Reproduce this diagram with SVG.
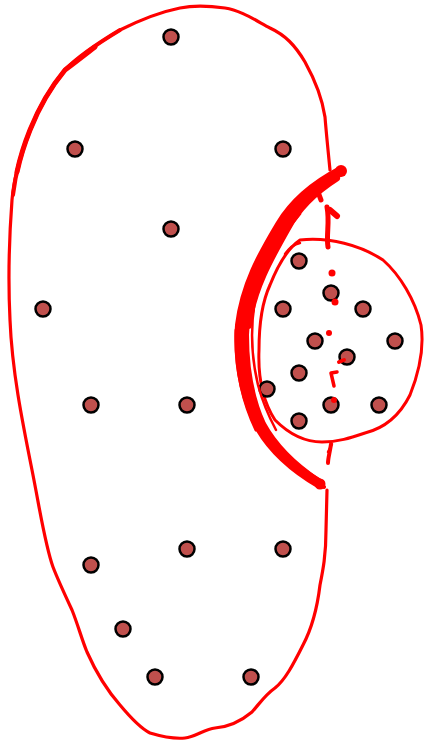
<svg xmlns="http://www.w3.org/2000/svg" width="425" height="743" viewBox="0 0 425 743">
<style>
.dot{fill:#c0504d;stroke:#000;stroke-width:2.5}
.ln{fill:none;stroke:#ff0000;stroke-linecap:round;stroke-linejoin:round}
.rd{fill:#ff0000}
</style>
<rect width="425" height="743" fill="#fff"/>
<g id="outline">
<path class="ln" stroke-width="3.2" d="M330,170 C328,150 326,130 325,117 C322,97 315,80 305,62 C295,45 285,35 270,28 C255,20 240,10 225,8 C210,6 195,5 180,8 C160,12 140,20 120,30 C100,42 80,55 65,70 C50,88 40,105 30,130 C20,155 14,175 12,200 C9,240 8,280 10,320 C12,370 22,420 32,470 C40,510 45,545 53,567 C58,580 65,595 72,610 C78,625 82,640 87,652 C95,670 105,688 120,705 C130,717 140,728 150,733 C160,736 175,739 185,738 C195,737 205,729 215,728 C228,727 240,722 252,712 C260,703 265,695 275,688 C285,680 293,665 303,645 C312,628 317,610 320,585 C323,570 326,555 326,530 L327,490"/>
<path class="ln" stroke-width="4" d="M120,30 C100,42 80,55 65,70 C50,88 40,105 30,130 C22,150 16,170 13,195"/>
<path class="ln" stroke-width="5" d="M95,47 C82,57 72,65 65,70 C50,88 40,105 30,130 C24,145 20,158 17,172"/>
</g>
<g id="small-circle">
<path class="ln" stroke-width="3" d="M300,240 C330,237 360,245 383,260 C400,275 415,300 421,325 C424,345 420,370 410,395 C400,415 385,428 365,433 C350,438 338,442 322,442 C305,442 290,435 275,420 C262,400 258,375 259,350 C259,320 263,300 270,285 C278,265 288,248 300,240 Z"/>
<path class="ln" stroke-width="2.5" d="M285,254 C290,247 295,244 300,243"/>
</g>
<g id="dots">
<circle class="dot" cx="171" cy="37" r="7.5"/>
<circle class="dot" cx="75" cy="149" r="7.5"/>
<circle class="dot" cx="283" cy="149" r="7.5"/>
<circle class="dot" cx="171" cy="229" r="7.5"/>
<circle class="dot" cx="43" cy="309" r="7.5"/>
<circle class="dot" cx="91" cy="405" r="7.5"/>
<circle class="dot" cx="187" cy="405" r="7.5"/>
<circle class="dot" cx="91" cy="565" r="7.5"/>
<circle class="dot" cx="187" cy="549" r="7.5"/>
<circle class="dot" cx="283" cy="549" r="7.5"/>
<circle class="dot" cx="123" cy="629" r="7.5"/>
<circle class="dot" cx="155" cy="677" r="7.5"/>
<circle class="dot" cx="251" cy="677" r="7.5"/>
<circle class="dot" cx="299" cy="261" r="7.5"/>
<circle class="dot" cx="331" cy="293" r="7.5"/>
<circle class="dot" cx="283" cy="309" r="7.5"/>
<circle class="dot" cx="363" cy="309" r="7.5"/>
<circle class="dot" cx="315" cy="341" r="7.5"/>
<circle class="dot" cx="395" cy="341" r="7.5"/>
<circle class="dot" cx="347" cy="357" r="7.5"/>
<circle class="dot" cx="299" cy="373" r="7.5"/>
<circle class="dot" cx="267" cy="389" r="7.5"/>
<circle class="dot" cx="331" cy="405" r="7.5"/>
<circle class="dot" cx="379" cy="405" r="7.5"/>
<circle class="dot" cx="299" cy="421" r="7.5"/>
</g>
<g id="scribbles">
<path class="ln" stroke-width="10" d="M341,171 C318,183 295,200 280,225 C262,255 245,285 240,325 C237,365 246,400 260,428 C274,452 296,470 320,484"/>
<path class="ln" stroke-width="8" d="M336,178 C314,192 298,208 287,228 C270,258 252,290 248,325"/>
<path class="ln" stroke-width="6" d="M336,176 C312,192 293,212 282,235 C266,265 247,298 246,335 C246,372 252,400 263,424 C276,448 296,466 318,481"/>
<path class="ln" stroke-width="4" d="M330,180 C306,196 284,222 270,250 C256,278 243,305 242,340 C242,380 252,410 266,436 C281,458 300,474 324,487"/>
<path class="ln" stroke-width="3" d="M236,330 C235,370 244,405 256,430"/>
<path class="ln" stroke-width="2.5" d="M300,214 C282,235 262,268 255,300 C250,330 252,360 258,385 C262,400 268,415 276,430"/>
<circle class="rd" cx="341" cy="171" r="6"/>
<circle class="rd" cx="320" cy="484" r="5.5"/>
<path class="ln" stroke-width="5" d="M327,207 C330,222 326,235 328,247"/>
<path class="ln" stroke-width="6" d="M330,210 L337,216"/>
<path class="ln" stroke-width="5" d="M318,192 L321,200"/>
<circle class="rd" cx="332" cy="273" r="3.5"/>
<circle class="rd" cx="335" cy="302" r="3.5"/>
<circle class="rd" cx="329" cy="333" r="3"/>
<path class="ln" stroke-width="4" d="M339,362 L344,360"/>
<path class="ln" stroke-width="3.5" d="M337,372 L331,373 L334,386"/>
<circle class="rd" cx="334" cy="400" r="3"/>
<path class="ln" stroke-width="4" d="M331,444 C330,452 328,458 328,463"/>
<path class="ln" stroke-width="2.5" d="M332,444 L328,452"/>
</g>
</svg>
